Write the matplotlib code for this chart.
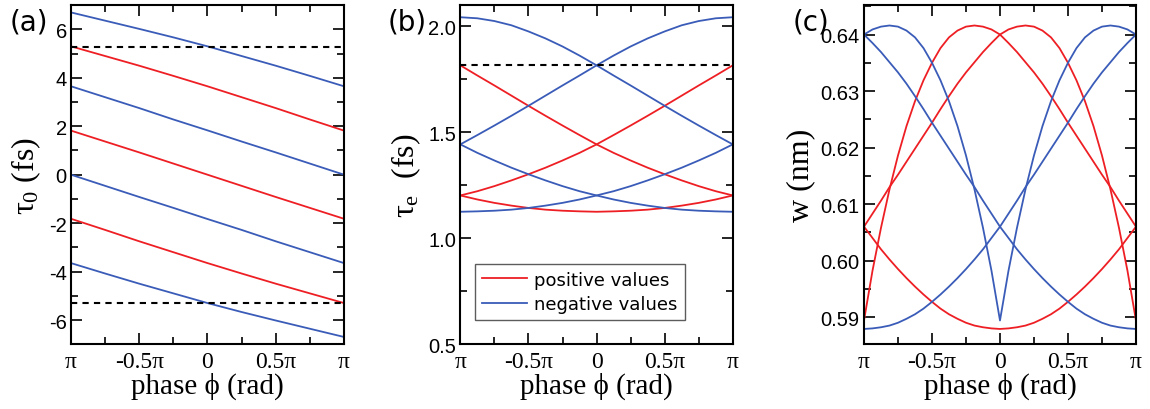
import numpy as np
import matplotlib
matplotlib.use("Agg")
import matplotlib.pyplot as plt
from matplotlib.ticker import MultipleLocator, FormatStrFormatter

# police des formules: tau droit comme dans la figure d'origine
plt.rcParams["mathtext.fontset"] = "custom"
plt.rcParams["mathtext.rm"] = "Liberation Serif"
plt.rcParams["mathtext.it"] = "Liberation Serif"
plt.rcParams["mathtext.bf"] = "Liberation Serif:bold"
plt.rcParams["axes.unicode_minus"] = False

# couleurs des courbes
RED = "#ee1f24"
BLUE = "#3a5cb8"
SERIF = ["Liberation Serif", "DejaVu Serif"]
SANS = ["Liberation Sans", "DejaVu Sans"]

# phase en unites de pi
phase9 = [-1, -0.75, -0.5, -0.25, 0, 0.25, 0.5, 0.75, 1]
phase17 = [-1, -0.875, -0.75, -0.625, -0.5, -0.375, -0.25, -0.125, 0,
           0.125, 0.25, 0.375, 0.5, 0.625, 0.75, 0.875, 1]
phase33 = [-1, -0.9375, -0.875, -0.8125, -0.75, -0.6875, -0.625, -0.5625, -0.5,
           -0.4375, -0.375, -0.3125, -0.25, -0.1875, -0.125, -0.0625, 0,
           0.0625, 0.125, 0.1875, 0.25, 0.3125, 0.375, 0.4375, 0.5,
           0.5625, 0.625, 0.6875, 0.75, 0.8125, 0.875, 0.9375, 1]
xtick_pos = [-1, -0.5, 0, 0.5, 1]
xtick_lab = ["π", "-0.5π", "0", "0.5π", "π"]

# (a) tau_0 (fs)
tau0_blue = [
    [6.70, 6.36, 6.02, 5.67, 5.30, 4.90, 4.50, 4.08, 3.65],
    [3.65, 3.20, 2.75, 2.28, 1.83, 1.37, 0.92, 0.46, 0.00],
    [0.00, -0.46, -0.92, -1.37, -1.83, -2.28, -2.75, -3.20, -3.65],
    [-3.65, -4.08, -4.50, -4.90, -5.30, -5.67, -6.02, -6.36, -6.70],
]
tau0_red = [
    [5.30, 4.90, 4.50, 4.08, 3.65, 3.20, 2.75, 2.28, 1.82],
    [1.82, 1.37, 0.92, 0.46, 0.00, -0.46, -0.92, -1.37, -1.82],
    [-1.82, -2.28, -2.75, -3.20, -3.65, -4.08, -4.50, -4.90, -5.30],
]
tau0_dash = [5.28, -5.28]

# (b) tau_e (fs)
taue_blue = [
    [2.043, 2.038, 2.025, 2.005, 1.976, 1.943, 1.905, 1.862, 1.816,
     1.768, 1.721, 1.673, 1.625, 1.578, 1.532, 1.487, 1.443],
    [1.443, 1.487, 1.532, 1.578, 1.625, 1.673, 1.721, 1.768, 1.816,
     1.862, 1.905, 1.943, 1.976, 2.005, 2.025, 2.038, 2.043],
    [1.443, 1.403, 1.367, 1.333, 1.302, 1.273, 1.246, 1.222, 1.202,
     1.183, 1.167, 1.154, 1.143, 1.135, 1.130, 1.127, 1.125],
    [1.125, 1.127, 1.130, 1.135, 1.143, 1.154, 1.167, 1.183, 1.202,
     1.222, 1.246, 1.273, 1.302, 1.333, 1.367, 1.403, 1.443],
]
taue_red = [
    [1.816, 1.768, 1.721, 1.673, 1.625, 1.578, 1.532, 1.487, 1.443,
     1.403, 1.367, 1.333, 1.302, 1.273, 1.246, 1.222, 1.202],
    [1.202, 1.222, 1.246, 1.273, 1.302, 1.333, 1.367, 1.403, 1.443,
     1.487, 1.532, 1.578, 1.625, 1.673, 1.721, 1.768, 1.816],
    [1.202, 1.183, 1.167, 1.154, 1.143, 1.135, 1.130, 1.127, 1.125,
     1.127, 1.130, 1.135, 1.143, 1.154, 1.167, 1.183, 1.202],
]
taue_dash = 1.816

# (c) w (nm)
w_blue = [
    [0.6400, 0.6409, 0.6414, 0.6416, 0.6414, 0.6407, 0.6395, 0.6376, 0.6350,
     0.6319, 0.6282, 0.6238, 0.6186, 0.6126, 0.6058, 0.5982, 0.5894,
     0.5982, 0.6058, 0.6126, 0.6186, 0.6238, 0.6282, 0.6319, 0.6350,
     0.6376, 0.6395, 0.6407, 0.6414, 0.6416, 0.6414, 0.6409, 0.6400],
    [0.6400, 0.6385, 0.6369, 0.6351, 0.6333, 0.6313, 0.6291, 0.6268, 0.6244,
     0.6221, 0.6198, 0.6175, 0.6152, 0.6130, 0.6106, 0.6083, 0.6060,
     0.6040, 0.6020, 0.6002, 0.5985, 0.5969, 0.5954, 0.5940, 0.5927,
     0.5915, 0.5905, 0.5897, 0.5890, 0.5885, 0.5882, 0.5880, 0.5879],
    [0.5879, 0.5880, 0.5882, 0.5885, 0.5890, 0.5897, 0.5905, 0.5915, 0.5927,
     0.5940, 0.5954, 0.5969, 0.5985, 0.6002, 0.6020, 0.6040, 0.6060,
     0.6083, 0.6106, 0.6130, 0.6152, 0.6175, 0.6198, 0.6221, 0.6244,
     0.6268, 0.6291, 0.6313, 0.6333, 0.6351, 0.6369, 0.6385, 0.6400],
]
w_red = [
    [0.5894, 0.5982, 0.6058, 0.6126, 0.6186, 0.6238, 0.6282, 0.6319, 0.6350,
     0.6376, 0.6395, 0.6407, 0.6414, 0.6416, 0.6414, 0.6409, 0.6400,
     0.6385, 0.6369, 0.6351, 0.6333, 0.6313, 0.6291, 0.6268, 0.6244,
     0.6221, 0.6198, 0.6175, 0.6152, 0.6130, 0.6106, 0.6083, 0.6060],
    [0.6060, 0.6083, 0.6106, 0.6130, 0.6152, 0.6175, 0.6198, 0.6221, 0.6244,
     0.6268, 0.6291, 0.6313, 0.6333, 0.6351, 0.6369, 0.6385, 0.6400,
     0.6409, 0.6414, 0.6416, 0.6414, 0.6407, 0.6395, 0.6376, 0.6350,
     0.6319, 0.6282, 0.6238, 0.6186, 0.6126, 0.6058, 0.5982, 0.5894],
    [0.6060, 0.6040, 0.6020, 0.6002, 0.5985, 0.5969, 0.5954, 0.5940, 0.5927,
     0.5915, 0.5905, 0.5897, 0.5890, 0.5885, 0.5882, 0.5880, 0.5879,
     0.5880, 0.5882, 0.5885, 0.5890, 0.5897, 0.5905, 0.5915, 0.5927,
     0.5940, 0.5954, 0.5969, 0.5985, 0.6002, 0.6020, 0.6040, 0.6060],
]

fig = plt.figure(figsize=(11.5, 4.1), dpi=100)
ax_a = fig.add_axes([0.0617, 0.158, 0.2374, 0.827])
ax_b = fig.add_axes([0.4003, 0.158, 0.2369, 0.827])
ax_c = fig.add_axes([0.7513, 0.158, 0.2365, 0.827])


def style(ax, ylim, ymaj, ymin):
    ax.set_xlim(-1, 1)
    ax.set_ylim(*ylim)
    ax.xaxis.set_minor_locator(MultipleLocator(0.25))
    ax.yaxis.set_major_locator(MultipleLocator(ymaj))
    ax.yaxis.set_minor_locator(MultipleLocator(ymin))
    ax.set_xticks(xtick_pos)
    ax.set_xticklabels(xtick_lab, fontfamily=SERIF, fontsize=17)
    ax.tick_params(which="both", direction="in", top=True, right=True, width=1.2)
    ax.tick_params(which="major", length=8)
    ax.tick_params(which="minor", length=5)
    ax.tick_params(axis="y", labelsize=14.5, pad=3)
    ax.tick_params(axis="x", pad=5)
    for lab in ax.get_yticklabels():
        lab.set_fontfamily(SANS)
    for s in ax.spines.values():
        s.set_linewidth(1.5)
    ax.set_xlabel("phase ϕ (rad)", fontfamily=SERIF, fontsize=21, labelpad=0)


# (a)
for y in tau0_blue:
    ax_a.plot(phase9, y, color=BLUE, lw=1.3)
for y in tau0_red:
    ax_a.plot(phase9, y, color=RED, lw=1.3)
for d in tau0_dash:
    ax_a.axhline(d, color="k", lw=1.5, ls=(0, (3, 2.5)))
style(ax_a, (-7, 7), 2, 1)
ax_a.set_ylabel(r"$\tau_0$ (fs)", fontfamily=SERIF, fontsize=23, labelpad=4)

# (b)
for i, y in enumerate(taue_red):
    ax_b.plot(phase17, y, color=RED, lw=1.3, label="positive values" if i == 0 else None)
for i, y in enumerate(taue_blue):
    ax_b.plot(phase17, y, color=BLUE, lw=1.3, label="negative values" if i == 0 else None)
ax_b.axhline(taue_dash, color="k", lw=1.5, ls=(0, (3, 2.5)))
style(ax_b, (0.5, 2.1), 0.5, 0.25)
ax_b.yaxis.set_major_formatter(FormatStrFormatter("%.1f"))
ax_b.set_ylabel(r"$\tau_e$  (fs)", fontfamily=SERIF, fontsize=23, labelpad=4)
leg = ax_b.legend(loc="upper left", bbox_to_anchor=(0.052, 0.238), borderaxespad=0,
                  fontsize=13, frameon=True, fancybox=False, edgecolor="#333333",
                  handlelength=2.5, handletextpad=0.4, borderpad=0.4,
                  labelspacing=0.35)
leg.get_frame().set_linewidth(1.0)

# (c)
for y in w_red:
    ax_c.plot(phase33, y, color=RED, lw=1.3)
for y in w_blue:
    ax_c.plot(phase33, y, color=BLUE, lw=1.3)
style(ax_c, (0.5852, 0.6452), 0.01, 0.005)
ax_c.yaxis.set_major_formatter(FormatStrFormatter("%.2f"))
ax_c.set_ylabel("w (nm)", fontfamily=SERIF, fontsize=23, labelpad=4)

fig.text(0.008, 0.98, "(a)", fontsize=20, va="top", ha="left")
fig.text(0.337, 0.98, "(b)", fontsize=20, va="top", ha="left")
fig.text(0.689, 0.98, "(c)", fontsize=20, va="top", ha="left")

fig.savefig("out.png", dpi=100)
